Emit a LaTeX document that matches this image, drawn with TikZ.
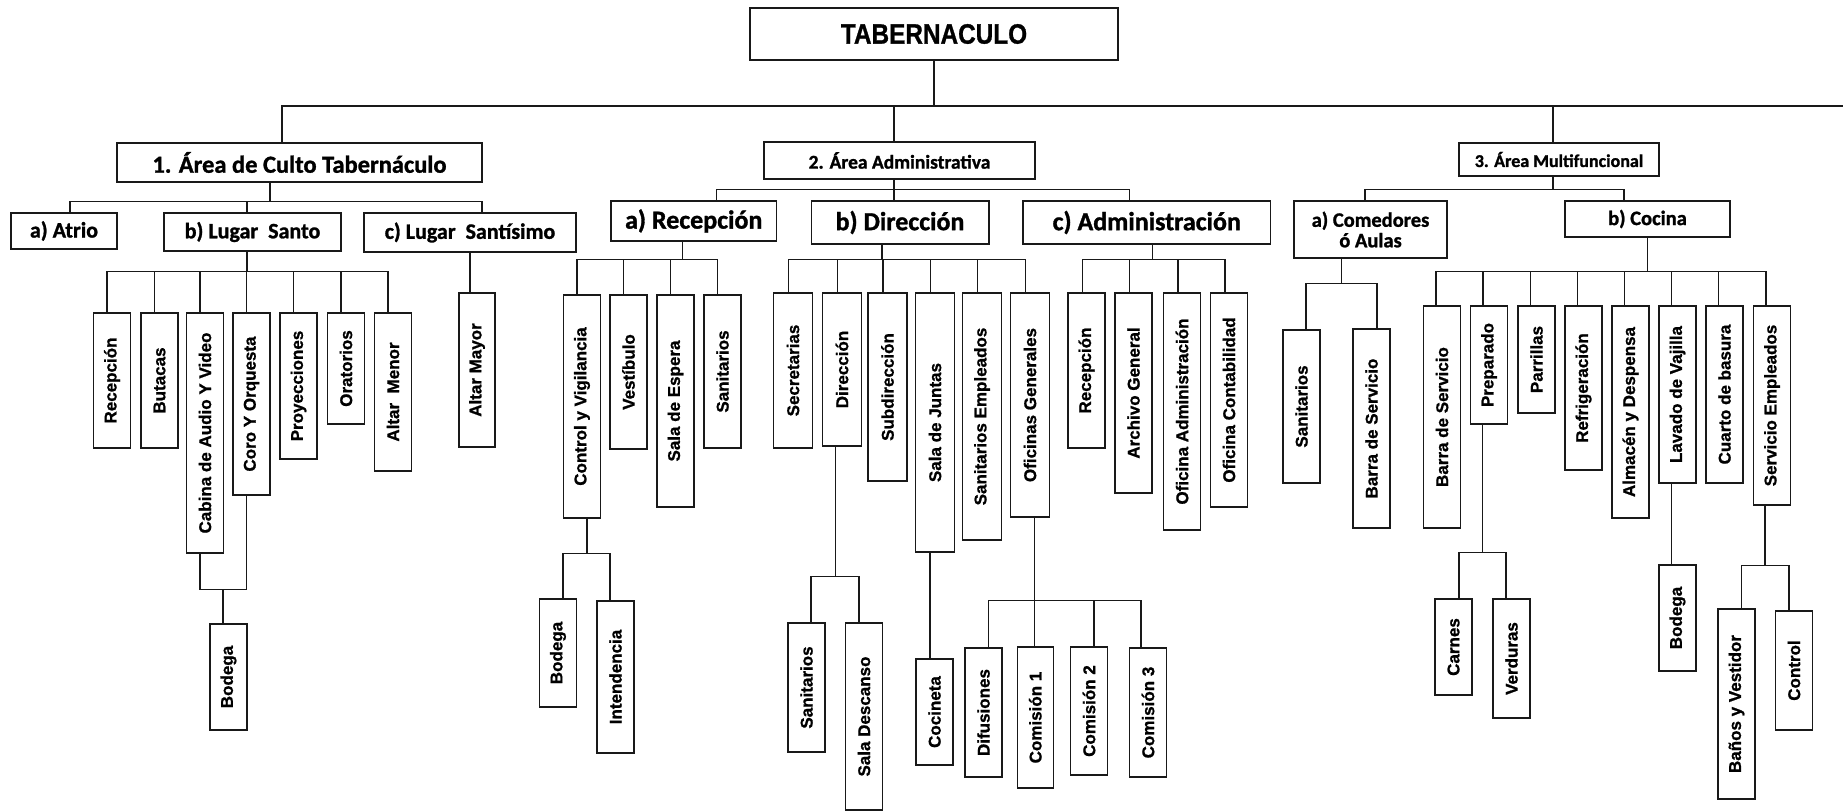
\documentclass[tikz,border=0pt]{standalone}
\usepackage{fontspec}
\usepackage{graphicx}
\setmainfont{Liberation Sans}[BoldFeatures={FakeBold=1}]
\newfontfamily\hfont{Carlito}[BoldFeatures={FakeBold=1.2}]
\newcommand\vlab[1]{\rotatebox{90}{#1}}
\tikzset{
  link/.style={line width=1.4pt, draw=black!90},
  boxbase/.style={draw=black!90, line width=1.4pt, inner sep=0pt, fill=white},
  hnode/.style n args={3}{boxbase, minimum width=#1pt, minimum height=#2pt,
    align=center, font=\hfont\bfseries\fontsize{#3}{#3}\selectfont},
  vnode/.style 2 args={boxbase, minimum width=#1pt, minimum height=#2pt,
    font=\bfseries\fontsize{17}{17}\selectfont},
}
\begin{document}
\begin{tikzpicture}[x=1pt,y=-1pt]
\useasboundingbox[fill=white] (0,0) rectangle (1843,811);

% ---------- root ----------
\node[boxbase, minimum width=368pt, minimum height=52pt,
      font=\bfseries\fontsize{28}{28}\selectfont] (tab) at (934,34)
      {\scalebox{0.87}[1]{TABERNACULO}};
\coordinate (rend) at (1843,106);

% ---------- main areas ----------
\node[hnode={365}{39}{24.5}] (a1) at (299.5,162.5) {1. Área de Culto Tabernáculo};
\node[hnode={271}{37}{19.5}] (a2) at (899.5,160.5) {2. Área Administrativa};
\node[hnode={200}{33}{18}]   (a3) at (1559,159.5) {3. Área Multifuncional};

\draw[link] (tab.south) -- (tab.south |- rend);
\draw[link] ([xshift=-17.5pt]a1.north) |- (rend);
\draw[link] ([xshift=-5.5pt]a2.north) -- ([xshift=-5.5pt]a2.north |- rend);
\draw[link] ([xshift=-6pt]a3.north) -- ([xshift=-6pt]a3.north |- rend);

% ---------- 1. Culto ----------
\node[hnode={106}{36}{22}] (atrio) at (64,231) {a) Atrio};
\node[hnode={177}{38}{22}] (santo) at (252.5,232) {b) Lugar\ \ Santo};
\node[hnode={212}{39}{22}] (santisimo) at (470,232.5) {c) Lugar\ \ Santísimo};

\draw[link] ([xshift=-29.5pt]a1.south) -- ++(0,19) coordinate (j1);
\draw[link] (j1) -| ([xshift=6pt]atrio.north);
\draw[link] (j1) -| ([xshift=-5.5pt]santo.north);
\draw[link] (j1) -| ([xshift=12pt]santisimo.north);

\node[vnode={37}{135}] (recep1) at (112,380.5)   {\vlab{Recepción}};
\node[vnode={37}{135}] (butacas) at (159.5,380.5) {\vlab{Butacas}};
\node[vnode={37}{240}] (cabina) at (205,433)     {\vlab{Cabina de Audio Y Video}};
\node[vnode={37}{182}] (coro) at (251.5,404)     {\vlab{Coro Y Orquesta}};
\node[vnode={37}{146}] (proy) at (298.5,386)     {\vlab{Proyecciones}};
\node[vnode={37}{111}] (orat) at (346,368.5)     {\vlab{Oratorios}};
\node[vnode={37}{158}] (altmen) at (393,392)     {\vlab{Altar\ \ Menor}};
\node[vnode={37}{106}] (bod1) at (228.5,677)     {\vlab{Bodega}};
\node[vnode={36}{154}] (altmay) at (477,370)     {\vlab{Altar Mayor}};

\draw[link] ([xshift=-5.5pt]santo.south) -- ++(0,20) coordinate (j2);
\foreach \c in {recep1,butacas,cabina,coro,proy,orat,altmen}
  \draw[link] (j2) -| ([xshift=-5pt]\c.north);
\draw[link] ([xshift=-5pt]cabina.south) -- ++(0,36) coordinate (j3) -| ([xshift=-5pt]coro.south);
\draw[link] ([xshift=-5.5pt]bod1.north) -- ([xshift=-5.5pt]bod1.north |- j3);
\draw[link] (santisimo.south) -- (santisimo.south |- altmay.north);

% ---------- 2. Administrativa ----------
\node[hnode={165.5}{40}{26}] (recA) at (693.75,221) {a) Recepción};
\node[hnode={177.6}{43}{26}] (dirB) at (900,222.5)  {b) Dirección};
\node[hnode={247.5}{43}{26}] (admC) at (1146.75,222.5) {c) Administración};

\draw[link] ([xshift=-5.5pt]a2.south) -- ++(0,10) coordinate (j4);
\draw[link] (j4) -| ([xshift=23pt]recA.north);
\draw[link] (j4) -| ([xshift=-6pt]dirB.north);
\draw[link] (j4) -| ([xshift=-17pt]admC.north);

% a) Recepción
\node[vnode={37}{223}] (cyv) at (582,406.5)     {\vlab{Control y Vigilancia}};
\node[vnode={37}{154}] (vest) at (628.5,372)    {\vlab{Vestíbulo}};
\node[vnode={37}{212}] (salaesp) at (675.5,401) {\vlab{Sala de Espera}};
\node[vnode={37}{153}] (sanit1) at (722.5,371.5) {\vlab{Sanitarios}};
\node[vnode={37}{108}] (bod2) at (558,653)      {\vlab{Bodega}};
\node[vnode={37}{152}] (intend) at (615.5,677)  {\vlab{Intendencia}};

\draw[link] ([xshift=-11pt]recA.south) -- ++(0,18) coordinate (j5);
\foreach \c in {cyv,vest,salaesp,sanit1}
  \draw[link] (j5) -| ([xshift=-5pt]\c.north);
\draw[link] ([xshift=5pt]cyv.south) -- ++(0,35) coordinate (j6);
\draw[link] (j6) -| ([xshift=5pt]bod2.north);
\draw[link] (j6) -| ([xshift=-5.5pt]intend.north);

% b) Dirección
\node[vnode={39}{155}] (secr) at (793,370.5)    {\vlab{Secretarias}};
\node[vnode={39}{153}] (dir) at (842,369.5)     {\vlab{Dirección}};
\node[vnode={39}{188}] (subd) at (887.5,387)    {\vlab{Subdirección}};
\node[vnode={39}{259}] (juntas) at (935,422.5)  {\vlab{Sala de Juntas}};
\node[vnode={39}{247}] (sanemp) at (982,416.5)  {\vlab{Sanitarios Empleados}};
\node[vnode={39}{224}] (ofgen) at (1030,405)    {\vlab{Oficinas Generales}};
\node[vnode={37}{129}] (sanit2) at (806.5,687.5) {\vlab{Sanitarios}};
\node[vnode={37}{187}] (descanso) at (864,716.5) {\vlab{Sala Descanso}};
\node[vnode={37}{106}] (cocineta) at (934.5,712) {\vlab{Cocineta}};
\node[vnode={37}{129}] (difus) at (983.5,712.5) {\vlab{Difusiones}};
\node[vnode={36}{141}] (com1) at (1035.3,717.5) {\vlab{Comisión 1}};
\node[vnode={37}{128}] (com2) at (1089,711)     {\vlab{Comisión 2}};
\node[vnode={37}{129}] (com3) at (1148,712.5)   {\vlab{Comisión 3}};

\draw[link] ([xshift=-18pt]dirB.south) -- ++(0,15) coordinate (j7);
\foreach \c in {secr,dir,subd,juntas,sanemp,ofgen}
  \draw[link] (j7) -| ([xshift=-4.5pt]\c.north);
\draw[link] ([xshift=-6.5pt]dir.south) -- ++(0,130) coordinate (j8);
\draw[link] (j8) -| ([xshift=4.5pt]sanit2.north);
\draw[link] (j8) -| ([xshift=-5pt]descanso.north);
\draw[link] ([xshift=-5pt]juntas.south) -- ([xshift=-5pt]juntas.south |- cocineta.north);
\draw[link] ([xshift=4.6pt]ofgen.south) -- ++(0,83) coordinate (j9);
\draw[link] (j9) -| ([xshift=5pt]difus.north);
\draw[link] (j9) -| ([xshift=-0.7pt]com1.north);
\draw[link] (j9) -| ([xshift=5pt]com2.north);
\draw[link] (j9) -| ([xshift=-7pt]com3.north);

% c) Administración
\node[vnode={37}{155}] (recep3) at (1086.5,370.5) {\vlab{Recepción}};
\node[vnode={37}{200}] (archivo) at (1133.5,393)  {\vlab{Archivo General}};
\node[vnode={37}{237}] (ofadm) at (1182,411.5)    {\vlab{Oficina Administración}};
\node[vnode={37}{214}] (ofcont) at (1229,400)     {\vlab{Oficina Contabilidad}};

\draw[link] ([xshift=6pt]admC.south) -- ++(0,15) coordinate (j10);
\foreach \c in {recep3,archivo,ofadm,ofcont}
  \draw[link] (j10) -| ([xshift=-4pt]\c.north);

% ---------- 3. Multifuncional ----------
\node[hnode={153}{57}{20.5}] (comed) at (1370.5,229.5) {a) Comedores\\ó Aulas};
\node[hnode={165}{36}{20.5}] (cocina) at (1647.5,219) {b) Cocina};

\draw[link] ([xshift=-6pt]a3.south) -- ++(0,13) coordinate (j11);
\draw[link] (j11) -| ([xshift=-5.5pt]comed.north);
\draw[link] (j11) -| ([xshift=-23.5pt]cocina.north);

% a) Comedores
\node[vnode={37}{153}] (sanit4) at (1301.5,406.5) {\vlab{Sanitarios}};
\node[vnode={37}{199}] (barra1) at (1371.5,428.5) {\vlab{Barra de Servicio}};

\draw[link] ([xshift=-29pt]comed.south) -- ++(0,25) coordinate (j12);
\draw[link] (j12) -| ([xshift=4.5pt]sanit4.north);
\draw[link] (j12) -| ([xshift=5.5pt]barra1.north);

% b) Cocina
\node[vnode={37}{222}] (barra2) at (1442,417)     {\vlab{Barra de Servicio}};
\node[vnode={37}{118}] (prep) at (1489,365)       {\vlab{Preparado}};
\node[vnode={37}{107}] (parr) at (1536.5,359.5)   {\vlab{Parrillas}};
\node[vnode={37}{164}] (refrig) at (1583.5,388)   {\vlab{Refrigeración}};
\node[vnode={37}{212}] (almacen) at (1630.5,412)  {\vlab{Almacén y Despensa}};
\node[vnode={37}{177}] (lavado) at (1677.5,394.5) {\vlab{Lavado de Vajilla}};
\node[vnode={37}{177}] (cuarto) at (1724.5,394.5) {\vlab{Cuarto de basura}};
\node[vnode={37}{199}] (servemp) at (1772,405.5)  {\vlab{Servicio Empleados}};
\node[vnode={37}{96}]  (carnes) at (1453.5,647)   {\vlab{Carnes}};
\node[vnode={37}{119}] (verd) at (1511.5,658.5)   {\vlab{Verduras}};
\node[vnode={37}{106}] (bod3) at (1677.5,618)     {\vlab{Bodega}};
\node[vnode={37}{190}] (banos) at (1736.5,704)    {\vlab{Baños y Vestidor}};
\node[vnode={37}{119}] (control) at (1794,670.5)  {\vlab{Control}};

\draw[link] (cocina.south) -- ++(0,34) coordinate (j13);
\foreach \c in {barra2,prep,parr,refrig,almacen,lavado,cuarto,servemp}
  \draw[link] (j13) -| ([xshift=-6pt]\c.north);
\draw[link] ([xshift=-6.5pt]prep.south) -- ++(0,128) coordinate (j14);
\draw[link] (j14) -| ([xshift=5.5pt]carnes.north);
\draw[link] (j14) -| ([xshift=-5.5pt]verd.north);
\draw[link] ([xshift=-6pt]lavado.south) -- ([xshift=-6pt]lavado.south |- bod3.north);
\draw[link] ([xshift=-7pt]servemp.south) -- ++(0,60) coordinate (j15);
\draw[link] (j15) -| ([xshift=5pt]banos.north);
\draw[link] (j15) -| ([xshift=-5pt]control.north);
\end{tikzpicture}
\end{document}
